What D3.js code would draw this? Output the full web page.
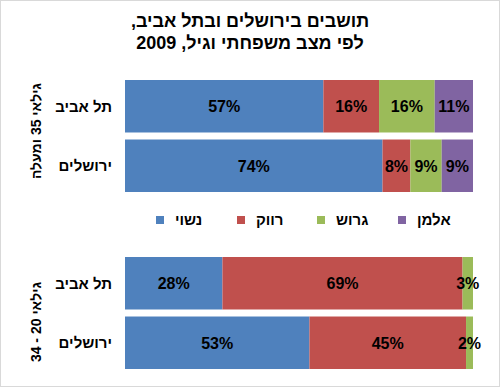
<!DOCTYPE html>
<html lang="he">
<head>
<meta charset="utf-8">
<script src="https://cdn.jsdelivr.net/npm/d3@7"></script>
<style>
  body { margin: 0; background: #fff; }
  svg { display: block; font-family: "Liberation Sans", Arial, sans-serif; font-weight: bold; }
</style>
</head>
<body>
<svg id="chart" width="500" height="388"></svg>
<script>
const titleLines = ['תושבים בירושלים ובתל אביב,', 'לפי מצב משפחתי וגיל, 2009'];
const cities = ['תל אביב', 'ירושלים'];
const statuses = ['נשוי', 'רווק', 'גרוש', 'אלמן'];
const colors = ['#4F81BD', '#C0504D', '#9BBB59', '#8064A2'];

const groupNames = ['גילאי 35 ומעלה', 'גילאי 20 - 34'];
// percentages per city, in the order of statuses
const older = [[57, 16, 16, 11], [74, 8, 9, 9]];
const younger = [[28, 69, 3, 0], [53, 45, 2, 0]];

const svg = d3.select('#chart');
const W = 500, H = 388;

svg.append('rect')
    .attr('x', 0.5).attr('y', 0.5)
    .attr('width', W - 1).attr('height', H - 2)
    .attr('fill', '#fff')
    .attr('stroke', '#d9d9d9');

// title
svg.append('g')
    .selectAll('text')
    .data(titleLines)
    .enter()
    .append('text')
    .attr('x', 250)
    .attr('y', (d, i) => 27 + i * 22)
    .attr('text-anchor', 'middle')
    .attr('direction', 'rtl')
    .attr('font-size', 18)
    .attr('fill', '#000')
    .text(d => d);

const x = d3.scaleLinear().domain([0, 100]).range([125, 473]);

const panels = [
    { name: groupNames[0], values: older, range: [80, 192], labelY: 131 },
    { name: groupNames[1], values: younger, range: [257, 369], labelY: 322 }
];

panels.forEach(p => {
    const y = d3.scaleBand()
        .domain(cities)
        .range(p.range)
        .paddingInner(0.118);

    const stack = d3.stack().keys(d3.range(statuses.length))(p.values);

    const g = svg.append('g');

    stack.forEach((layer, k) => {
        g.selectAll(null)
            .data(layer.map((seg, i) => ({ seg, i, v: p.values[i][k] })))
            .enter()
            .filter(d => d.v > 0)
            .append('rect')
            .attr('x', d => x(d.seg[0]))
            .attr('y', d => y(cities[d.i]))
            .attr('width', d => x(d.seg[1]) - x(d.seg[0]))
            .attr('height', y.bandwidth())
            .attr('fill', colors[k]);
    });

    stack.forEach((layer, k) => {
        g.selectAll(null)
            .data(layer.map((seg, i) => ({ seg, i, v: p.values[i][k] })))
            .enter()
            .filter(d => d.v > 0)
            .append('text')
            .attr('x', d => x((d.seg[0] + d.seg[1]) / 2))
            .attr('y', d => y(cities[d.i]) + y.bandwidth() / 2)
            .attr('dy', '0.36em')
            .attr('text-anchor', 'middle')
            .attr('font-size', 16)
            .attr('fill', '#000')
            .text(d => d.v + '%');
    });

    // city labels
    g.selectAll(null)
        .data(cities)
        .enter()
        .append('text')
        .attr('x', 112)
        .attr('y', d => y(d) + y.bandwidth() / 2)
        .attr('dy', '0.36em')
        .attr('text-anchor', 'end')
        .attr('font-size', 15)
        .attr('fill', '#000')
        .text(d => d);

    // group label, rotated
    g.append('text')
        .attr('transform', `translate(41,${p.labelY}) rotate(-90)`)
        .attr('text-anchor', 'middle')
        .attr('direction', 'rtl')
        .attr('font-size', 14)
        .attr('fill', '#000')
        .text(p.name);
});

// legend
const legendX = [156, 237, 317, 398];
const legend = svg.append('g')
    .selectAll('g')
    .data(statuses)
    .enter()
    .append('g')
    .attr('transform', (d, i) => `translate(${legendX[i]},216)`);

legend.append('rect')
    .attr('width', 8).attr('height', 8)
    .attr('fill', (d, i) => colors[i]);

legend.append('text')
    .attr('x', 19)
    .attr('y', 4)
    .attr('dy', '0.36em')
    .attr('font-size', 15)
    .attr('fill', '#000')
    .text(d => d);
</script>
</body>
</html>
